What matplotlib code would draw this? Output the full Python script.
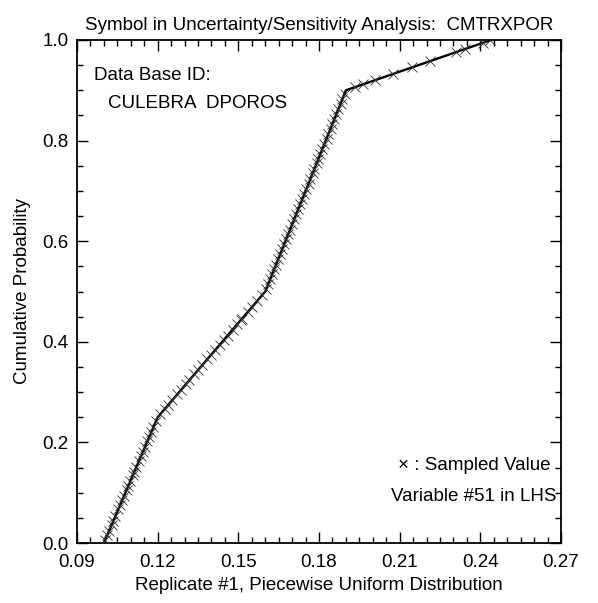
import numpy as np
import matplotlib
matplotlib.use('Agg')
import matplotlib.pyplot as plt
from matplotlib.ticker import MultipleLocator

plt.rcParams['font.family'] = ['Liberation Sans', 'DejaVu Sans']

# piecewise uniform distribution (breakpoints of the CDF)
cdf_x = [0.100, 0.120, 0.160, 0.190, 0.244]
cdf_p = [0.00, 0.25, 0.50, 0.90, 1.00]

samples = [
    0.1004, 0.1013, 0.1019, 0.1029, 0.1035, 0.1043, 0.1054, 0.1060, 0.1069, 0.1075,
    0.1085, 0.1091, 0.1098, 0.1108, 0.1113, 0.1121, 0.1131, 0.1138, 0.1145, 0.1153,
    0.1162, 0.1169, 0.1177, 0.1184, 0.1194,
    0.1209, 0.1226, 0.1240, 0.1255, 0.1273, 0.1287, 0.1305, 0.1318, 0.1336, 0.1350,
    0.1366, 0.1385, 0.1398, 0.1414, 0.1431, 0.1447, 0.1460, 0.1479, 0.1496, 0.1510,
    0.1514, 0.1535, 0.1552, 0.1570, 0.1589,
    0.1603, 0.1611, 0.1618, 0.1626, 0.1634, 0.1640, 0.1648, 0.1656, 0.1663, 0.1671,
    0.1678, 0.1686, 0.1692, 0.1701, 0.1708, 0.1716, 0.1723, 0.1730, 0.1738, 0.1746,
    0.1753, 0.1761, 0.1767, 0.1776, 0.1782, 0.1791, 0.1798, 0.1805, 0.1812, 0.1820,
    0.1828, 0.1835, 0.1843, 0.1850, 0.1857, 0.1865, 0.1872, 0.1880, 0.1887, 0.1895,
    0.1934, 0.1964, 0.2008, 0.2075, 0.2146, 0.2213, 0.2309, 0.2343, 0.2410, 0.2436,
]

titulo = 'Symbol in Uncertainty/Sensitivity Analysis:  CMTRXPOR'
xlabel = 'Replicate #1, Piecewise Uniform Distribution'
ylabel = 'Cumulative Probability'

fs = 13.5

fig = plt.figure(figsize=(5.98, 6.03), dpi=100)
ax = fig.add_axes([77 / 598, 1 - 543 / 603, 484 / 598, 503 / 603])

ax.plot(cdf_x, cdf_p, color='black', lw=1.7, zorder=2)
prob = np.interp(samples, cdf_x, cdf_p)
ax.plot(samples, prob, ls='none', marker='x', ms=6.5, mew=0.6, color='#333333', zorder=3)

ax.set_xlim(0.09, 0.27)
ax.set_ylim(0.0, 1.0)
ax.xaxis.set_major_locator(MultipleLocator(0.03))
ax.xaxis.set_minor_locator(MultipleLocator(0.005))
ax.yaxis.set_major_locator(MultipleLocator(0.2))
ax.yaxis.set_minor_locator(MultipleLocator(0.05))
ax.xaxis.set_major_formatter(plt.FormatStrFormatter('%.2f'))
ax.yaxis.set_major_formatter(plt.FormatStrFormatter('%.1f'))
ax.tick_params(which='both', direction='in', top=True, right=True, labelsize=fs, width=1)
ax.tick_params(which='major', length=8)
ax.tick_params(which='minor', length=4.5)
ax.tick_params(axis='x', which='major', pad=8)
ax.tick_params(axis='y', which='major', pad=6)
for s in ax.spines.values():
    s.set_linewidth(1.3)

ax.set_xlabel(xlabel, fontsize=fs, labelpad=4)
ax.set_ylabel(ylabel, fontsize=fs, labelpad=8)
ax.set_title(titulo, fontsize=fs, pad=7)

ax.text(0.035, 0.93, 'Data Base ID:', transform=ax.transAxes, fontsize=fs, va='center')
ax.text(0.065, 0.873, 'CULEBRA  DPOROS', transform=ax.transAxes, fontsize=fs, va='center')
ax.text(0.978, 0.155, '\u00d7 : Sampled Value', transform=ax.transAxes, fontsize=fs,
        va='center', ha='right')
ax.text(0.99, 0.092, 'Variable #51 in LHS', transform=ax.transAxes, fontsize=fs,
        va='center', ha='right')

fig.savefig('out.png', dpi=100)
